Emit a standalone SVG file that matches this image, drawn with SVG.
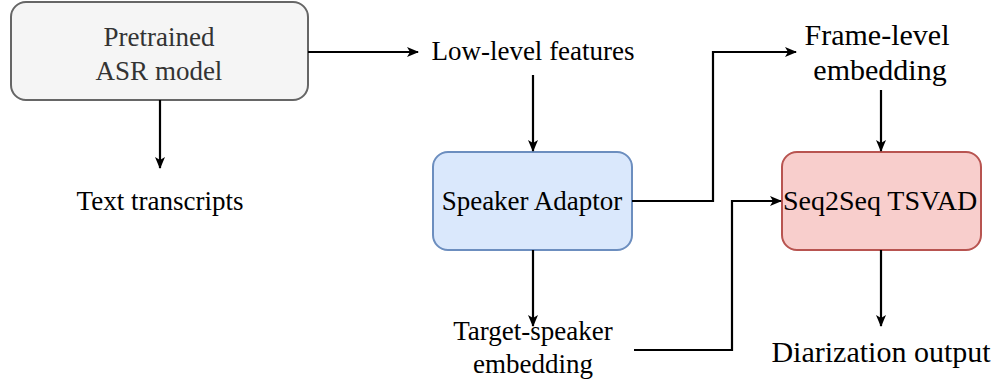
<svg xmlns="http://www.w3.org/2000/svg" width="995" height="385" viewBox="0 0 995 385">
  <defs>
    <marker id="arrow" viewBox="0 0 12 10" refX="11" refY="5" markerWidth="12" markerHeight="10" markerUnits="userSpaceOnUse" orient="auto">
      <path d="M0,0 L12,5 L0,10 L3,5 Z" fill="#000"/>
    </marker>
  </defs>
  <style>
    text { font-family: "Liberation Serif", "Times New Roman", serif; font-size: 27px; fill: #000; text-anchor: middle; }
    .big { font-size: 30px; }
    .mid { font-size: 28px; }
    .grey { fill: #333; }
    .box { stroke-width: 2; }
    .conn { fill: none; stroke: #000; stroke-width: 2.2; marker-end: url(#arrow); }
  </style>
  <rect width="995" height="385" fill="#fff"/>

  <g id="asr">
    <rect class="box" x="11" y="2" width="297" height="98" rx="15" fill="#f5f5f5" stroke="#666"/>
    <text class="grey" x="159" y="46">Pretrained</text>
    <text class="grey" x="159" y="80">ASR model</text>
  </g>

  <g id="low-level">
    <text x="533" y="60">Low-level features</text>
  </g>

  <g id="transcripts">
    <text x="160" y="210">Text transcripts</text>
  </g>

  <g id="adaptor">
    <rect class="box" x="433" y="152" width="199" height="98" rx="15" fill="#dae8fc" stroke="#6c8ebf"/>
    <text x="532" y="210">Speaker Adaptor</text>
  </g>

  <g id="frame-level">
    <text class="big" x="877" y="45">Frame-level</text>
    <text class="big" x="880" y="80">embedding</text>
  </g>

  <g id="tsvad">
    <rect class="box" x="782" y="152" width="199" height="98" rx="15" fill="#f8cecc" stroke="#b85450"/>
    <text class="mid" x="880" y="210">Seq2Seq TSVAD</text>
  </g>

  <g id="target-speaker">
    <text x="533" y="340">Target-speaker</text>
    <text x="533" y="373">embedding</text>
  </g>

  <g id="output">
    <text class="big" x="881" y="362">Diarization output</text>
  </g>

  <g id="connectors">
    <path class="conn" d="M308,52 H418"/>
    <path class="conn" d="M160,100 V168"/>
    <path class="conn" d="M533,75 V151"/>
    <path class="conn" d="M632,201 H713 V52 H796"/>
    <path class="conn" d="M881,90 V151"/>
    <path class="conn" d="M533,250 V326"/>
    <path class="conn" d="M881,250 V326"/>
    <path class="conn" d="M634,350 H732 V201 H781"/>
  </g>
</svg>
